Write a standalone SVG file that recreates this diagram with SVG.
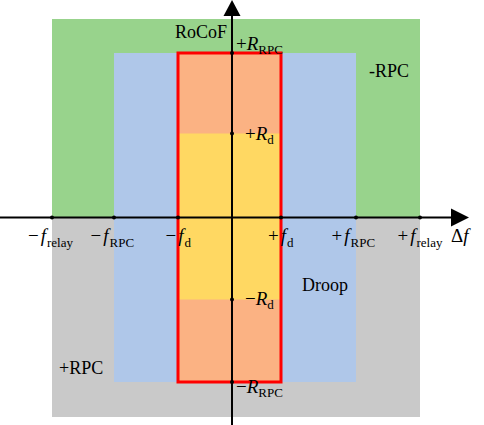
<svg xmlns="http://www.w3.org/2000/svg" width="484" height="425" viewBox="0 0 484 425">
<style>
text{font-family:"Liberation Serif","Times New Roman",serif;font-size:18px;fill:#000}
.m{font-size:19px}
.i{font-style:italic}
.s{font-size:13px;font-style:normal}
.ax{stroke:#000;stroke-width:2;fill:none}
.dot{fill:#000}
</style>
<rect width="484" height="425" fill="#fff"/>
<g id="relay-zone">
<rect x="52" y="19" width="368" height="198.5" fill="#98D38C"/>
<rect x="52" y="217.5" width="368" height="199.5" fill="#C9C9C9"/>
</g>
<g id="rpc-zone"><rect x="114" y="53" width="242" height="329" fill="#AFC7E9"/></g>
<g id="droop-zone">
<rect x="178" y="53" width="103" height="329" fill="#FBB283"/>
<rect x="178" y="133.5" width="103" height="166" fill="#FFD862"/>
<rect x="178" y="53" width="103" height="329" fill="none" stroke="#FF0000" stroke-width="3"/>
</g>
<g id="axes">
<line class="ax" x1="232" y1="12" x2="232" y2="425"/>
<polygon points="232,0 223.5,16 240.5,16" fill="#000"/>
<line class="ax" x1="0" y1="217.5" x2="454" y2="217.5"/>
<polygon points="469,217.5 451,208.5 451,226.5" fill="#000"/>
<g class="dot">
<circle cx="52" cy="217.5" r="2"/><circle cx="114" cy="217.5" r="2"/><circle cx="178" cy="217.5" r="2"/>
<circle cx="281" cy="217.5" r="2"/><circle cx="356" cy="217.5" r="2"/><circle cx="420" cy="217.5" r="2"/>
<circle cx="232" cy="53" r="2"/><circle cx="232" cy="133.5" r="2"/><circle cx="232" cy="299.5" r="2"/><circle cx="232" cy="382" r="2"/>
</g>
</g>
<g id="labels">
<text x="175" y="37.5">RoCoF</text>
<text class="m" x="236" y="49.5">+<tspan class="i">R</tspan><tspan class="s" dy="4">RPC</tspan></text>
<text x="369" y="77">-RPC</text>
<text class="m" x="245" y="140">+<tspan class="i">R</tspan><tspan class="s" dy="4">d</tspan></text>
<text class="m" x="245" y="305">−<tspan class="i">R</tspan><tspan class="s" dy="4">d</tspan></text>
<text class="m" x="236" y="393">−<tspan class="i">R</tspan><tspan class="s" dy="4">RPC</tspan></text>
<text x="302" y="291">Droop</text>
<text x="59" y="374">+RPC</text>
<text class="m" x="28" y="242">−<tspan class="i" dx="2">f</tspan><tspan class="s" dx="1" dy="5">relay</tspan></text>
<text class="m" x="90.5" y="242">−<tspan class="i" dx="2">f</tspan><tspan class="s" dx="1" dy="5">RPC</tspan></text>
<text class="m" x="165.5" y="242">−<tspan class="i" dx="2">f</tspan><tspan class="s" dx="1" dy="5">d</tspan></text>
<text class="m" x="268" y="242">+<tspan class="i" dx="2">f</tspan><tspan class="s" dx="1" dy="5">d</tspan></text>
<text class="m" x="331.5" y="242">+<tspan class="i" dx="2">f</tspan><tspan class="s" dx="1" dy="5">RPC</tspan></text>
<text class="m" x="397.5" y="242">+<tspan class="i" dx="2">f</tspan><tspan class="s" dx="1" dy="5">relay</tspan></text>
<text class="m" x="451" y="242">Δ<tspan class="i">f</tspan></text>
</g>
</svg>
